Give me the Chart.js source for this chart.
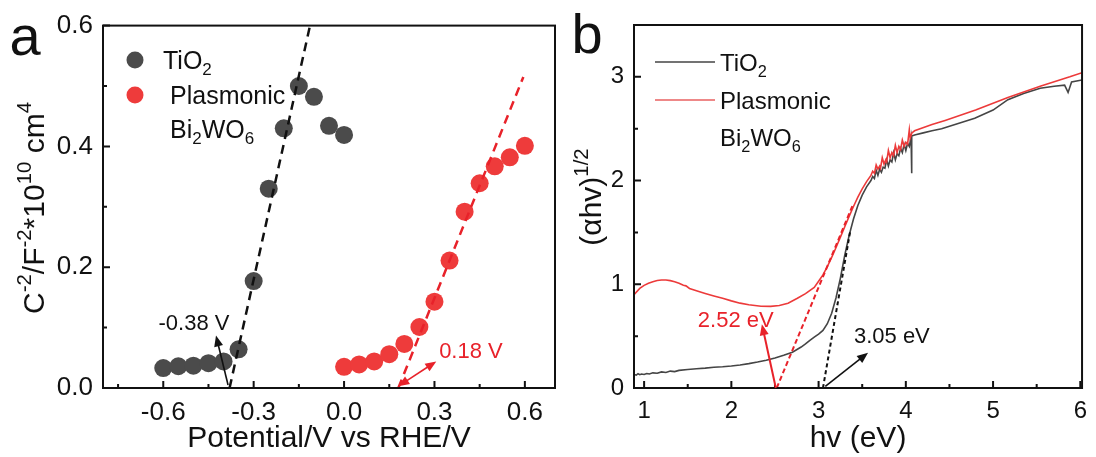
<!DOCTYPE html>
<html>
<head>
<meta charset="utf-8">
<title>Mott-Schottky and Tauc plots</title>
<script src="https://cdn.jsdelivr.net/npm/chart.js@4.4.1/dist/chart.umd.min.js"></script>
<style>
  body { margin: 0; background: #fff; }
  #wrap { position: relative; width: 1096px; height: 457px; overflow: hidden; }
  canvas { position: absolute; top: 0; }
  #msChart { left: 0; }
  #taucChart { left: 570px; }
</style>
</head>
<body>
<div id="wrap">
  <canvas id="msChart" width="570" height="457"></canvas>
  <canvas id="taucChart" width="526" height="457"></canvas>
</div>
<script>
// ---------- panel a : Mott-Schottky ----------
const potTiO2 = [-0.6, -0.55, -0.5, -0.45, -0.4, -0.35, -0.3, -0.25, -0.2, -0.15, -0.1, -0.05, 0];
const msTiO2 = [0.033, 0.036, 0.037, 0.041, 0.044, 0.064, 0.177, 0.330, 0.430, 0.500, 0.482, 0.434, 0.419];
const potBWO = [0, 0.05, 0.1, 0.15, 0.2, 0.25, 0.3, 0.35, 0.4, 0.45, 0.5, 0.55, 0.6];
const msBWO = [0.035, 0.039, 0.044, 0.056, 0.073, 0.101, 0.143, 0.211, 0.292, 0.339, 0.367, 0.382, 0.401];
// linear fits, starting at the flat-band potential
const fitTiO2X = [-0.38, -0.113];
const fitTiO2Y = [0, 0.6];
const fitBWOX = [0.18, 0.595];
const fitBWOY = [0, 0.515];

const xTicksA = [-0.75, -0.6, -0.45, -0.3, -0.15, 0, 0.15, 0.3, 0.45, 0.6];
const xLabelsA = [-0.6, -0.3, 0, 0.3, 0.6];
const yTicksA = [0, 0.1, 0.2, 0.3, 0.4, 0.5, 0.6];
const yLabelsA = [0, 0.2, 0.4, 0.6];

// ---------- panel b : Tauc plot ----------
const eTiO2 = [0.884, 0.91, 0.93, 0.95, 0.97, 1.0, 1.03, 1.06, 1.1, 1.15, 1.2, 1.25, 1.3, 1.35, 1.4, 1.5, 1.6,
  1.7, 1.8, 1.9, 2.0, 2.1, 2.2, 2.3, 2.4, 2.5, 2.6, 2.7, 2.8, 2.85, 2.9, 2.95, 3.0, 3.05, 3.1, 3.15, 3.2,
  3.25, 3.3, 3.35, 3.4, 3.45, 3.5, 3.55,
  3.6, 3.62, 3.64, 3.66, 3.68, 3.7, 3.72, 3.74, 3.76, 3.78, 3.8, 3.82, 3.84, 3.86, 3.88, 3.9, 3.92, 3.94,
  3.96, 3.98, 4.0, 4.02, 4.04, 4.06,
  4.065, 4.07, 4.1, 4.2, 4.3, 4.41, 4.6, 4.79, 5.0, 5.17, 5.35, 5.54, 5.7, 5.82, 5.86, 5.9, 6.02];
const tTiO2 = [0.13, 0.125, 0.138, 0.128, 0.135, 0.13, 0.14, 0.135, 0.146, 0.142, 0.155, 0.15, 0.163, 0.158,
  0.17, 0.178, 0.186, 0.192, 0.2, 0.205, 0.212, 0.222, 0.235, 0.25, 0.268, 0.29, 0.315, 0.345, 0.395, 0.425,
  0.46, 0.49, 0.52, 0.555, 0.62, 0.72, 0.87, 1.06, 1.28, 1.47, 1.63, 1.76, 1.86, 1.94,
  2.0, 2.04, 2.02, 2.1, 2.05, 2.11, 2.08, 2.13, 2.12, 2.2, 2.14, 2.2, 2.18, 2.27, 2.2, 2.26, 2.24, 2.31,
  2.27, 2.35, 2.29, 2.36, 2.33, 2.42,
  2.07, 2.43, 2.44, 2.46, 2.48, 2.5, 2.55, 2.6, 2.68, 2.78, 2.84, 2.89, 2.91, 2.92, 2.85, 2.95, 2.97];
const eBWO = [0.884, 0.95, 1.0, 1.05, 1.1, 1.15, 1.2, 1.25, 1.3, 1.35, 1.4, 1.45, 1.48, 1.52, 1.6, 1.7, 1.8,
  1.9, 2.0, 2.1, 2.2, 2.34, 2.45, 2.55, 2.65, 2.757, 2.85, 2.95, 3.0, 3.05, 3.1, 3.15, 3.2, 3.25, 3.3, 3.35,
  3.4, 3.45, 3.5, 3.55,
  3.6, 3.62, 3.64, 3.66, 3.68, 3.7, 3.71, 3.73, 3.75, 3.77, 3.78, 3.8, 3.82, 3.84, 3.86, 3.88, 3.9, 3.92,
  3.94, 3.96, 3.98, 4.0, 4.02, 4.04, 4.05, 4.07,
  4.1, 4.3, 4.45, 4.8, 5.17, 5.54, 5.88, 6.02];
const tBWO = [0.9, 0.96, 0.99, 1.01, 1.025, 1.037, 1.042, 1.042, 1.035, 1.025, 1.01, 0.99, 0.985, 0.96, 0.938,
  0.912, 0.888, 0.865, 0.84, 0.818, 0.803, 0.788, 0.787, 0.796, 0.818, 0.865, 0.91, 0.97, 1.03, 1.09, 1.17,
  1.26, 1.355, 1.455, 1.555, 1.655, 1.75, 1.84, 1.92, 1.99,
  2.05, 2.09, 2.07, 2.15, 2.11, 2.14, 2.12, 2.22, 2.16, 2.2, 2.18, 2.29, 2.22, 2.27, 2.24, 2.34, 2.27, 2.33,
  2.3, 2.39, 2.33, 2.37, 2.35, 2.49, 2.41, 2.46,
  2.48, 2.54, 2.58, 2.68, 2.8, 2.91, 3.0, 3.04];
// band-edge tangents, from the x intercept upward
const tanBWOX = [2.52, 3.39];
const tanBWOY = [0, 1.76];
const tanTiO2X = [3.05, 3.36];
const tanTiO2Y = [0, 1.5];

const xTicksB = [1, 1.5, 2, 2.5, 3, 3.5, 4, 4.5, 5, 5.5, 6];
const xLabelsB = [1, 2, 3, 4, 5, 6];
const yTicksB = [0, 0.5, 1, 1.5, 2, 2.5, 3, 3.5];
const yLabelsB = [0, 1, 2, 3];

// ---------- styling ----------
const FONT = "'Liberation Sans', Arial, Helvetica, sans-serif";
const INK = '#111111';
const GREY = '#4b4b4b';
const RED = '#ee3b3b';
const RED_LINE = '#e8222a';
Chart.defaults.font.family = FONT;
Chart.defaults.color = INK;

const pts = (xs, ys) => xs.map((x, i) => ({ x: x, y: ys[i] }));
const near = (list, v) => list.some(m => Math.abs(m - v) < 1e-6);

function axis(tickList, labelList, digits, size, pad, fit, title) {
  return {
    type: 'linear',
    grid: { display: false, drawTicks: false },
    border: { display: false },
    afterBuildTicks: s => { s.ticks = tickList.map(v => ({ value: v })); },
    afterFit: fit,
    ticks: {
      autoSkip: false, maxRotation: 0, padding: pad, color: INK, font: { size: size },
      callback: v => near(labelList, v) ? v.toFixed(digits) : ''
    },
    title: title ? { display: true, text: title, color: INK, font: { size: 30 }, padding: 0 } : { display: false }
  };
}

// text with sub/superscripts, parts = [[text, '' | 'sup' | 'sub'], ...]
function drawRich(ctx, parts, x, y, size, color, align) {
  ctx.save();
  ctx.fillStyle = color;
  ctx.textBaseline = 'alphabetic';
  ctx.textAlign = 'left';
  const fontOf = k => (k ? size * 0.68 : size) + 'px ' + FONT;
  const widths = parts.map(([t, k]) => { ctx.font = fontOf(k); return ctx.measureText(t).width; });
  const total = widths.reduce((a, b) => a + b, 0);
  let cx = align === 'center' ? x - total / 2 : x;
  parts.forEach(([t, k], i) => {
    ctx.font = fontOf(k);
    const dy = k === 'sup' ? -size * 0.42 : k === 'sub' ? size * 0.24 : 0;
    ctx.fillText(t, cx, y + dy);
    cx += widths[i];
  });
  ctx.restore();
}

function arrowHead(ctx, xa, ya, xb, yb) {
  const ang = Math.atan2(yb - ya, xb - xa);
  const L = 11, W = 4.5;
  ctx.beginPath();
  ctx.moveTo(xb, yb);
  ctx.lineTo(xb - L * Math.cos(ang) + W * Math.sin(ang), yb - L * Math.sin(ang) - W * Math.cos(ang));
  ctx.lineTo(xb - L * Math.cos(ang) - W * Math.sin(ang), yb - L * Math.sin(ang) + W * Math.cos(ang));
  ctx.closePath();
  ctx.fill();
}

function drawArrow(ctx, x0, y0, x1, y1, color, width, both) {
  ctx.save();
  ctx.strokeStyle = color;
  ctx.fillStyle = color;
  ctx.lineWidth = width;
  const len = Math.hypot(x1 - x0, y1 - y0);
  const ux = (x1 - x0) / len, uy = (y1 - y0) / len;
  ctx.beginPath();
  ctx.moveTo(both ? x0 + ux * 8 : x0, both ? y0 + uy * 8 : y0);
  ctx.lineTo(x1 - ux * 8, y1 - uy * 8);
  ctx.stroke();
  arrowHead(ctx, x0, y0, x1, y1);
  if (both) arrowHead(ctx, x1, y1, x0, y0);
  ctx.restore();
}

// frame, inward ticks, rotated y title, legend, letters and arrow notes
function decorPlugin(cfg) {
  return {
    id: 'decor',
    afterDatasetsDraw(chart) {
      const ctx = chart.ctx;
      const { left, right, top, bottom } = chart.chartArea;
      const sx = chart.scales.x, sy = chart.scales.y;
      ctx.save();
      ctx.strokeStyle = INK;
      ctx.lineWidth = 2;
      ctx.strokeRect(left, top, right - left, bottom - top);
      ctx.beginPath();
      sx.ticks.forEach(t => {
        const px = sx.getPixelForValue(t.value);
        const len = near(cfg.xLabels, t.value) ? 7 : 4;
        ctx.moveTo(px, bottom);
        ctx.lineTo(px, bottom - len);
      });
      sy.ticks.forEach(t => {
        const py = sy.getPixelForValue(t.value);
        const len = near(cfg.yLabels, t.value) ? 7 : 4;
        ctx.moveTo(left, py);
        ctx.lineTo(left + len, py);
      });
      ctx.stroke();
      ctx.restore();

      // y title
      ctx.save();
      ctx.translate(cfg.yTitlePos[0], cfg.yTitlePos[1]);
      ctx.rotate(-Math.PI / 2);
      drawRich(ctx, cfg.yTitle, 0, 0, 30, INK, 'center');
      ctx.restore();

      // panel letter
      ctx.save();
      ctx.font = '56px ' + FONT;
      ctx.fillStyle = INK;
      ctx.fillText(cfg.letter, cfg.letterPos[0], cfg.letterPos[1]);
      ctx.restore();

      // legend
      cfg.legend.forEach(item => {
        ctx.save();
        if (item.dot) {
          ctx.fillStyle = item.dot;
          ctx.beginPath();
          ctx.arc(item.mark[0], item.mark[1], 8.5, 0, Math.PI * 2);
          ctx.fill();
        }
        if (item.line) {
          ctx.strokeStyle = item.line;
          ctx.lineWidth = 1.6;
          ctx.beginPath();
          ctx.moveTo(item.mark[0], item.mark[1]);
          ctx.lineTo(item.mark[2], item.mark[1]);
          ctx.stroke();
        }
        ctx.restore();
        drawRich(ctx, item.text, item.at[0], item.at[1], cfg.legendSize, INK, 'left');
      });

      // notes: arrows and value labels, in data units
      cfg.notes.forEach(n => {
        const x0 = sx.getPixelForValue(n.from[0]), y0 = sy.getPixelForValue(n.from[1]);
        const x1 = sx.getPixelForValue(n.to[0]), y1 = sy.getPixelForValue(n.to[1]);
        drawArrow(ctx, x0, y0, x1, y1, n.color, n.width, n.both);
        ctx.save();
        ctx.font = '22px ' + FONT;
        ctx.fillStyle = n.color;
        ctx.textAlign = 'center';
        ctx.fillText(n.label, sx.getPixelForValue(n.labelAt[0]), sy.getPixelForValue(n.labelAt[1]));
        ctx.restore();
      });
    }
  };
}

// ---------- panel a ----------
new Chart(document.getElementById('msChart'), {
  type: 'scatter',
  data: {
    datasets: [
      { data: pts(fitTiO2X, fitTiO2Y), showLine: true, pointRadius: 0, borderColor: '#111', borderWidth: 2.5, borderDash: [9, 6], order: 0 },
      { data: pts(fitBWOX, fitBWOY), showLine: true, pointRadius: 0, borderColor: RED_LINE, borderWidth: 2.5, borderDash: [9, 6], order: 0 },
      { data: pts(potTiO2, msTiO2), pointRadius: 9, backgroundColor: GREY, borderWidth: 0, order: 1 },
      { data: pts(potBWO, msBWO), pointRadius: 9, backgroundColor: RED, borderWidth: 0, order: 1 }
    ]
  },
  options: {
    responsive: false,
    animation: false,
    events: [],
    layout: { padding: { left: 0, top: 25, right: 15, bottom: 0 } },
    plugins: { legend: { display: false }, tooltip: { enabled: false } },
    scales: {
      x: Object.assign(axis(xTicksA, xLabelsA, 1, 26, 9, s => { s.height = 69; }, 'Potential/V vs RHE/V'), { min: -0.8, max: 0.7 }),
      y: Object.assign(axis(yTicksA, yLabelsA, 1, 26, 10, s => { s.width = 103; }), { min: 0, max: 0.6 })
    }
  },
  plugins: [decorPlugin({
    xLabels: xLabelsA, yLabels: yLabelsA,
    yTitle: [['C', ''], ['-2', 'sup'], ['/F', ''], ['-2', 'sup'], ['*10', ''], ['10', 'sup'], [' cm', ''], ['4', 'sup']],
    yTitlePos: [44, 208],
    letter: 'a', letterPos: [9.5, 55],
    legendSize: 25,
    legend: [
      { dot: GREY, mark: [135, 60], text: [['TiO', ''], ['2', 'sub']], at: [163, 69] },
      { dot: RED, mark: [135, 95], text: [['Plasmonic', '']], at: [170, 104] },
      { text: [['Bi', ''], ['2', 'sub'], ['WO', ''], ['6', 'sub']], at: [170, 138] }
    ],
    notes: [
      { from: [-0.385, 0.005], to: [-0.425, 0.087], color: INK, width: 1.6, label: '-0.38 V', labelAt: [-0.498, 0.096] },
      { from: [0.18, 0.003], to: [0.306, 0.044], color: RED_LINE, width: 1.6, both: true, label: '0.18 V', labelAt: [0.421, 0.049] }
    ]
  })]
});

// ---------- panel b ----------
new Chart(document.getElementById('taucChart'), {
  type: 'scatter',
  data: {
    datasets: [
      { data: pts(tanBWOX, tanBWOY), showLine: true, pointRadius: 0, borderColor: RED_LINE, borderWidth: 2, borderDash: [5, 3], order: 0 },
      { data: pts(tanTiO2X, tanTiO2Y), showLine: true, pointRadius: 0, borderColor: '#111', borderWidth: 2, borderDash: [4, 3], order: 0 },
      { data: pts(eBWO, tBWO), showLine: true, pointRadius: 0, borderColor: '#ec3a3a', borderWidth: 1.6, order: 1 },
      { data: pts(eTiO2, tTiO2), showLine: true, pointRadius: 0, borderColor: '#454545', borderWidth: 1.6, order: 2 }
    ]
  },
  options: {
    responsive: false,
    animation: false,
    events: [],
    layout: { padding: { left: 0, top: 25, right: 7, bottom: 0 } },
    plugins: { legend: { display: false }, tooltip: { enabled: false } },
    scales: {
      x: Object.assign(axis(xTicksB, xLabelsB, 0, 24, 9, s => { s.height = 69; }, 'hv (eV)'), { min: 0.884, max: 6.02 }),
      y: Object.assign(axis(yTicksB, yLabelsB, 0, 24, 10, s => { s.width = 64; }), { min: 0, max: 3.5 })
    }
  },
  plugins: [decorPlugin({
    xLabels: xLabelsB, yLabels: yLabelsB,
    yTitle: [['(αhv)', ''], ['1/2', 'sup']],
    yTitlePos: [31, 197],
    letter: 'b', letterPos: [1.5, 53],
    legendSize: 24,
    legend: [
      { line: '#454545', mark: [85, 62, 145], text: [['TiO', ''], ['2', 'sub']], at: [150, 71] },
      { line: '#e86060', mark: [85, 100, 145], text: [['Plasmonic', '']], at: [150, 109] },
      { text: [['Bi', ''], ['2', 'sub'], ['WO', ''], ['6', 'sub']], at: [150, 146] }
    ],
    notes: [
      { from: [2.51, 0.0], to: [2.35, 0.615], color: RED_LINE, width: 2, label: '2.52 eV', labelAt: [2.05, 0.587] },
      { from: [3.077, 0.015], to: [3.567, 0.341], color: INK, width: 1.6, label: '3.05 eV', labelAt: [3.84, 0.433] }
    ]
  })]
});
</script>
</body>
</html>
